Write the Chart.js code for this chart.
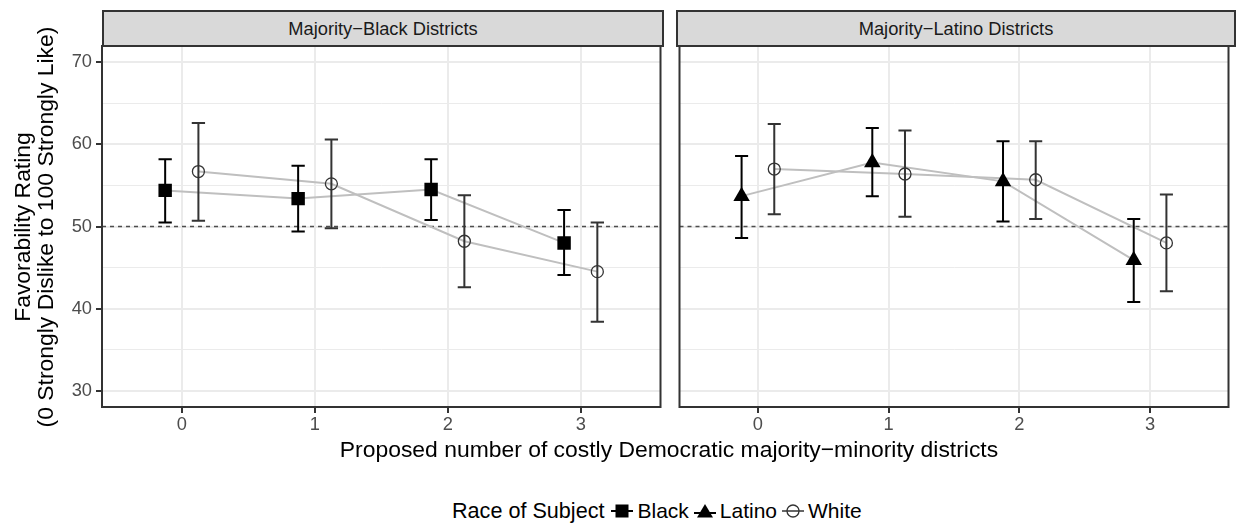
<!DOCTYPE html>
<html lang="en">
  <head>
    <meta charset="UTF-8" />
    <title>Favorability Rating by Proposed Districts</title>
    <script src="https://cdn.jsdelivr.net/npm/chart.js"></script>
    <style>
      body {
        margin: 0;
        background: #fff;
        font-family: "Liberation Sans", Arial, sans-serif;
      }
      .figure {
        position: relative;
        width: 1238px;
        height: 525px;
        overflow: hidden;
      }
      .figure canvas {
        position: absolute;
        top: 0;
      }
      .strip {
        position: absolute;
        top: 10px;
        height: 37px;
        box-sizing: border-box;
        background: #d9d9d9;
        border: 2px solid #333;
        display: flex;
        align-items: center;
        justify-content: center;
        font-size: 18.3px;
        color: #1a1a1a;
      }
      .y-title {
        position: absolute;
        left: -196px;
        top: 204px;
        width: 460px;
        height: 46px;
        line-height: 23px;
        font-size: 22.9px;
        text-align: center;
        white-space: nowrap;
        transform: rotate(-90deg);
      }
      .x-title {
        position: absolute;
        left: 102px;
        width: 1134px;
        top: 438px;
        line-height: 23px;
        font-size: 22.9px;
        text-align: center;
        white-space: nowrap;
      }
      .legend {
        position: absolute;
        left: 452px;
        top: 498px;
        height: 26px;
        display: flex;
        align-items: center;
        font-size: 21px;
        white-space: nowrap;
      }
      .legend .title {
        font-size: 21.6px;
        margin-right: 7px;
      }
      .legend svg {
        margin: 0 4px 0 0;
      }
      .legend .label {
        margin-right: 5px;
      }
    </style>
  </head>
  <body>
    <div class="figure">
      <canvas id="panelBlack" width="670" height="440" style="left: 0"></canvas>
      <canvas id="panelLatino" width="568" height="440" style="left: 670px"></canvas>
      <div class="strip" id="stripBlack" style="left: 102px; width: 562px"></div>
      <div class="strip" id="stripLatino" style="left: 676px; width: 560px"></div>
      <div class="y-title">Favorability Rating<br />(0 Strongly Dislike to 100 Strongly Like)</div>
      <div class="x-title">Proposed number of costly Democratic majority−minority districts</div>
      <div class="legend">
        <span class="title">Race of Subject</span>
        <svg width="22" height="22" viewBox="0 0 22 22">
          <line x1="0" y1="11" x2="22" y2="11" stroke="#000" stroke-width="2" />
          <rect x="4.5" y="4.5" width="13" height="13" fill="#000" />
        </svg>
        <span class="label">Black</span>
        <svg width="22" height="22" viewBox="0 0 22 22">
          <line x1="0" y1="13" x2="22" y2="13" stroke="#000" stroke-width="2" />
          <polygon points="11,4 19,17.5 3,17.5" fill="#000" />
        </svg>
        <span class="label">Latino</span>
        <svg width="22" height="22" viewBox="0 0 22 22">
          <line x1="0" y1="11" x2="22" y2="11" stroke="#333" stroke-width="1.5" />
          <circle cx="11" cy="11" r="6" fill="none" stroke="#333" stroke-width="1.3" />
        </svg>
        <span class="label">White</span>
      </div>
    </div>

    <script>
      // Categories and ticks
      const xCategories = [0, 1, 2, 3];
      const xTickLabels = ["0", "1", "2", "3"];
      const yMajorTicks = [30, 40, 50, 60, 70];
      const yMinorTicks = [35, 45, 55, 65];
      const panelTitles = ["Majority−Black Districts", "Majority−Latino Districts"];
      const raceLabels = ["Black", "Latino", "White"];
      const referenceLine = 50;

      // Majority-Black districts
      const blackPanelBlackMean = [54.4, 53.4, 54.5, 48.0];
      const blackPanelBlackLow = [50.5, 49.4, 50.8, 44.1];
      const blackPanelBlackHigh = [58.2, 57.4, 58.2, 52.0];
      const blackPanelWhiteMean = [56.7, 55.2, 48.2, 44.5];
      const blackPanelWhiteLow = [50.7, 49.8, 42.6, 38.4];
      const blackPanelWhiteHigh = [62.6, 60.6, 53.8, 50.5];

      // Majority-Latino districts
      const latinoPanelLatinoMean = [53.7, 57.8, 55.5, 45.9];
      const latinoPanelLatinoLow = [48.6, 53.7, 50.6, 40.8];
      const latinoPanelLatinoHigh = [58.6, 62.0, 60.4, 50.9];
      const latinoPanelWhiteMean = [57.0, 56.4, 55.7, 48.0];
      const latinoPanelWhiteLow = [51.5, 51.2, 50.9, 42.1];
      const latinoPanelWhiteHigh = [62.5, 61.7, 60.4, 53.9];

      const dodge = 0.125; // position_dodge offset, in category units
      const capWidth = 0.1; // error bar cap width, in category units
      const fontFamily = '"Liberation Sans", Arial, sans-serif';

      document.getElementById("stripBlack").textContent = panelTitles[0];
      document.getElementById("stripLatino").textContent = panelTitles[1];

      // Builds the line dataset and the point dataset of one series
      function makeSeries(label, mean, low, high, offset, marker) {
        const points = xCategories.map((c, i) => ({ x: c + offset, y: mean[i] }));
        return [
          {
            label: label + " line",
            data: points,
            showLine: true,
            borderColor: "#bfbfbf",
            borderWidth: 2,
            pointRadius: 0,
            order: 2,
          },
          {
            label: label,
            data: points,
            showLine: false,
            lo: low,
            hi: high,
            barColor: marker.bar,
            pointStyle: marker.style,
            pointRadius: marker.radius,
            pointBackgroundColor: marker.fill,
            pointBorderColor: marker.stroke,
            pointBorderWidth: marker.width,
            order: 1,
          },
        ];
      }

      const markers = {
        Black: { style: "rect", radius: 9.5, fill: "#000", stroke: "#000", width: 0, bar: "#000" },
        Latino: { style: "triangle", radius: 9.5, fill: "#000", stroke: "#000", width: 0, bar: "#000" },
        White: { style: "circle", radius: 6, fill: "rgba(0,0,0,0)", stroke: "#333", width: 1.3, bar: "#333" },
      };

      // Dashed reference line, error bars and panel border
      const panelPlugin = {
        id: "panelExtras",
        beforeDatasetsDraw(chart) {
          const { ctx, chartArea: a, scales } = chart;
          const yy = scales.y.getPixelForValue(referenceLine);
          ctx.save();
          ctx.strokeStyle = "#4d4d4d";
          ctx.lineWidth = 1.5;
          ctx.setLineDash([4, 4]);
          ctx.beginPath();
          ctx.moveTo(a.left, yy);
          ctx.lineTo(a.right, yy);
          ctx.stroke();
          ctx.restore();
        },
        beforeDatasetDraw(chart, args) {
          const ds = chart.data.datasets[args.index];
          if (!ds.lo) return;
          const { ctx, scales } = chart;
          const x = scales.x;
          const y = scales.y;
          ctx.save();
          ctx.strokeStyle = ds.barColor;
          ctx.lineWidth = 2;
          ds.data.forEach((p, i) => {
            const px = x.getPixelForValue(p.x);
            const half = x.getPixelForValue(p.x + capWidth / 2) - px;
            const top = y.getPixelForValue(ds.hi[i]);
            const bot = y.getPixelForValue(ds.lo[i]);
            ctx.beginPath();
            ctx.moveTo(px, top);
            ctx.lineTo(px, bot);
            ctx.moveTo(px - half, top);
            ctx.lineTo(px + half, top);
            ctx.moveTo(px - half, bot);
            ctx.lineTo(px + half, bot);
            ctx.stroke();
          });
          ctx.restore();
        },
        afterDraw(chart) {
          const { ctx, chartArea: a } = chart;
          ctx.save();
          ctx.strokeStyle = "#333";
          ctx.lineWidth = 2;
          ctx.strokeRect(a.left, a.top, a.right - a.left, a.bottom - a.top);
          ctx.restore();
        },
      };

      const isMajor = (ctx) => ctx.tick && yMajorTicks.includes(ctx.tick.value);

      function panelOptions(showY) {
        return {
          responsive: false,
          animation: false,
          layout: {
            padding: showY
              ? { top: 46, right: 6, bottom: 0, left: 0 }
              : { top: 46, right: 2, bottom: 0, left: 6 },
          },
          plugins: { legend: { display: false }, tooltip: { enabled: false } },
          scales: {
            x: {
              type: "linear",
              min: -0.6,
              max: 3.6,
              afterBuildTicks: (s) => {
                s.ticks = xCategories.map((v) => ({ value: v }));
              },
              afterFit: (s) => {
                s.height = 33;
              },
              ticks: {
                autoSkip: false,
                maxRotation: 0,
                padding: 1,
                color: "#4d4d4d",
                font: { size: 18.3, family: fontFamily },
                callback: (v, i) => xTickLabels[i],
              },
              grid: { color: "#ebebeb", lineWidth: 2, tickLength: 6, tickColor: "#333", tickWidth: 2 },
              border: { display: false },
            },
            y: {
              type: "linear",
              min: 28,
              max: 72,
              afterBuildTicks: (s) => {
                s.ticks = yMajorTicks
                  .concat(yMinorTicks)
                  .sort((a, b) => a - b)
                  .map((v) => ({ value: v }));
              },
              afterFit: (s) => {
                s.width = showY ? 102 : 0;
              },
              ticks: {
                display: showY,
                autoSkip: false,
                padding: 4,
                color: "#4d4d4d",
                font: { size: 18.3, family: fontFamily },
                callback: (v) => (yMajorTicks.includes(v) ? String(v) : ""),
              },
              grid: {
                color: "#ebebeb",
                lineWidth: (ctx) => (isMajor(ctx) ? 2 : 1),
                drawTicks: showY,
                tickLength: 6,
                tickWidth: 2,
                tickColor: (ctx) => (isMajor(ctx) ? "#333" : "rgba(0,0,0,0)"),
              },
              border: { display: false },
            },
          },
        };
      }

      new Chart(document.getElementById("panelBlack"), {
        type: "line",
        data: {
          datasets: [
            ...makeSeries(raceLabels[0], blackPanelBlackMean, blackPanelBlackLow, blackPanelBlackHigh, -dodge, markers.Black),
            ...makeSeries(raceLabels[2], blackPanelWhiteMean, blackPanelWhiteLow, blackPanelWhiteHigh, dodge, markers.White),
          ],
        },
        options: panelOptions(true),
        plugins: [panelPlugin],
      });

      new Chart(document.getElementById("panelLatino"), {
        type: "line",
        data: {
          datasets: [
            ...makeSeries(raceLabels[1], latinoPanelLatinoMean, latinoPanelLatinoLow, latinoPanelLatinoHigh, -dodge, markers.Latino),
            ...makeSeries(raceLabels[2], latinoPanelWhiteMean, latinoPanelWhiteLow, latinoPanelWhiteHigh, dodge, markers.White),
          ],
        },
        options: panelOptions(false),
        plugins: [panelPlugin],
      });
    </script>
  </body>
</html>
